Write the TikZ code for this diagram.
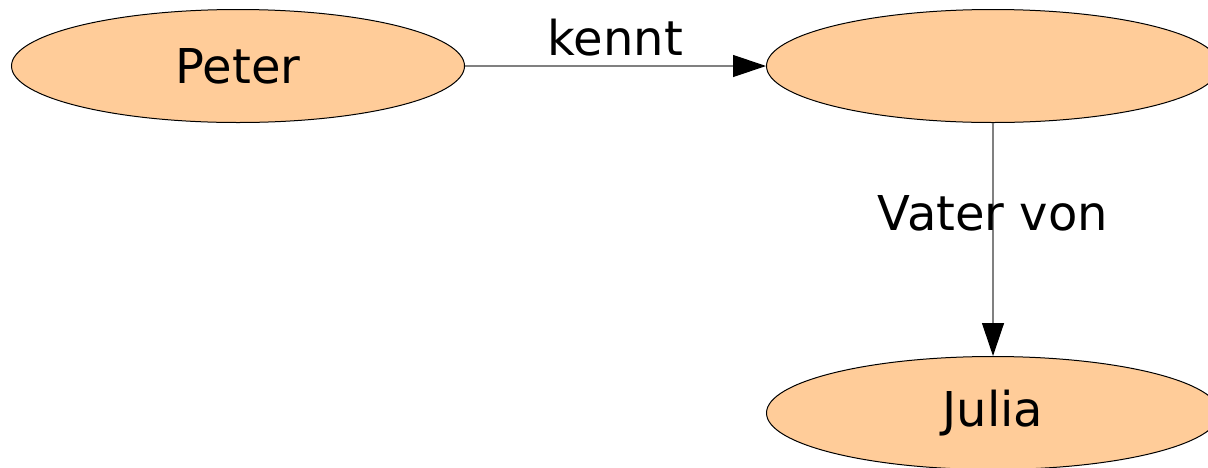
\documentclass[tikz,border=0pt]{standalone}
\usepackage{fontspec}
\setmainfont{DejaVu Sans}
\usetikzlibrary{shapes.geometric}
\usetikzlibrary{arrows.meta}

\begin{document}
\begin{tikzpicture}[x=0.5pt,y=-0.5pt,
    person/.style={ellipse,draw=black,line width=0.5pt,fill=personfill,minimum width=226.5pt,minimum height=56.5pt,inner sep=0pt},
    rel/.style={draw=gray,line width=0.6pt,-{Triangle[color=black,length=16.5pt,width=11pt]}}]
                \definecolor{personfill}{HTML}{FFCC99}
                \fontsize{24}{29}\selectfont
                \useasboundingbox (0,0) rectangle (1208,467);
                \clip (0,0) rectangle (1208,467);
                \node[person] (peter) at (238,66) {Peter};
                \node[person] (vater) at (993,66) {};
                \node[person] (julia) at (993,413) {Julia};
                \draw[rel] (peter)--(vater) node[midway,anchor=base,yshift=5.5pt]{kennt};
                \draw[rel] (vater)--(julia) node[pos=0.46,anchor=base]{Vater von};
            \end{tikzpicture}
\end{document}
